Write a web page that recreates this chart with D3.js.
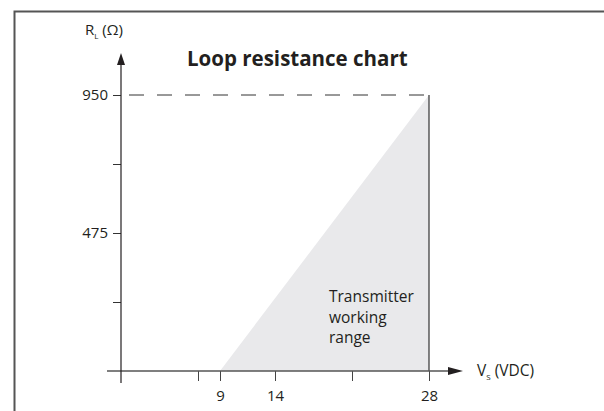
<!DOCTYPE html>
<html lang="en">
	<head>
		<meta charset="utf-8">
		<title>Loop resistance chart</title>
		<script src="https://d3js.org/d3.v7.min.js"></script>
		<style type="text/css">
			body { margin: 0; background: white; }
			text { font-family: 'Open Sans', sans-serif; fill: #231f20; }
		</style>
	</head>
	<body>
		<script type="text/javascript">

			//Chart values
			var xTicks = [7, 9, 14, 21, 28];
			var xTickLabels = ["", "9", "14", "", "28"];
			var yTicks = [0, 237.5, 475, 712.5, 950];
			var yTickLabels = ["", "", "475", "", "950"];
			var rangeVs = [9, 28, 28];
			var rangeRl = [0, 950, 0];
			var title = "Loop resistance chart";
			var areaLabel = ["Transmitter", "working", "range"];

			var w = 604;
			var h = 411;

			var x = d3.scaleLinear().domain([0, 28]).range([121, 429]);
			var y = d3.scaleLinear().domain([0, 950]).range([371, 95]);

			var svg = d3.select("body")
						.append("svg")
						.attr("width", w)
						.attr("height", h);

			//Frame (top and left edges)
			svg.append("path")
			   .attr("d", "M14.5," + h + "V11.5H" + w)
			   .attr("fill", "none")
			   .attr("stroke", "#555")
			   .attr("stroke-width", 2);

			//Working range triangle
			var pts = rangeVs.map(function(v, i) { return [x(v), y(rangeRl[i])]; });
			svg.append("path")
			   .attr("d", d3.line()(pts) + "Z")
			   .attr("fill", "#e9e9eb");

			//Vertical limit at 28 V
			svg.append("line")
			   .attr("x1", x(28)).attr("x2", x(28))
			   .attr("y1", y(950)).attr("y2", y(0))
			   .attr("stroke", "#333").attr("stroke-width", 1.2);

			//Dashed line at max resistance
			svg.append("line")
			   .attr("x1", x(0)).attr("x2", x(28))
			   .attr("y1", y(950)).attr("y2", y(950))
			   .attr("stroke", "#333").attr("stroke-width", 1)
			   .attr("stroke-dasharray", "15,13")
			   .attr("stroke-dashoffset", -8);

			//X axis
			var xAxis = d3.axisBottom(x)
						  .tickValues(xTicks)
						  .tickSize(10)
						  .tickPadding(9)
						  .tickFormat(function(d, i) { return xTickLabels[i]; });
			var gx = svg.append("g")
						.attr("transform", "translate(0," + y(0) + ")")
						.call(xAxis);
			gx.select(".domain").remove();
			gx.selectAll("line").attr("stroke", "#444");
			gx.selectAll("text").style("font-size", "15px").attr("fill", "#231f20");
			gx.append("line")
			  .attr("x1", 107).attr("x2", 450)
			  .attr("stroke", "#555").attr("stroke-width", 1.4);
			gx.append("path")
			  .attr("d", "M463,0L448,-4L448,4Z")
			  .attr("fill", "#231f20");

			//Y axis
			var yAxis = d3.axisLeft(y)
						  .tickValues(yTicks)
						  .tickSize(8)
						  .tickPadding(5)
						  .tickFormat(function(d, i) { return yTickLabels[i]; });
			var gy = svg.append("g")
						.attr("transform", "translate(" + x(0) + ",0)")
						.call(yAxis);
			gy.select(".domain").remove();
			gy.selectAll(".tick").filter(function(d) { return d === 0; }).remove();
			gy.selectAll("line").attr("stroke", "#333");
			gy.selectAll("text").style("font-size", "15px").attr("fill", "#231f20");
			gy.append("line")
			  .attr("y1", 62).attr("y2", 383)
			  .attr("stroke", "#231f20").attr("stroke-width", 1.2);
			gy.append("path")
			  .attr("d", "M0,53L-4,65L4,65Z")
			  .attr("fill", "#231f20");

			//Axis titles
			var yt = svg.append("text")
						.attr("x", 85).attr("y", 35)
						.style("font-size", "15px");
			yt.append("tspan").text("R");
			yt.append("tspan").attr("dy", 4).style("font-size", "8px").text("L");
			yt.append("tspan").attr("dy", -4).text(" (\u03A9)");

			var xt = svg.append("text")
						.attr("x", 477).attr("y", y(0) + 5)
						.style("font-size", "15.5px");
			xt.append("tspan").text("V");
			xt.append("tspan").attr("dy", 4).style("font-size", "8px").text("S");
			xt.append("tspan").attr("dy", -4).text(" (VDC)");

			//Title
			svg.append("text")
			   .attr("x", 187).attr("y", 66)
			   .style("font-size", "20.5px")
			   .style("font-weight", "bold")
			   .text(title);

			//Area label
			svg.append("text")
			   .attr("y", 302)
			   .style("font-size", "15.5px")
			   .selectAll("tspan")
			   .data(areaLabel)
			   .enter()
			   .append("tspan")
			   .attr("x", 329)
			   .attr("dy", function(d, i) { return i === 0 ? 0 : 20.5; })
			   .text(function(d) { return d; });
		</script>
	</body>
</html>
